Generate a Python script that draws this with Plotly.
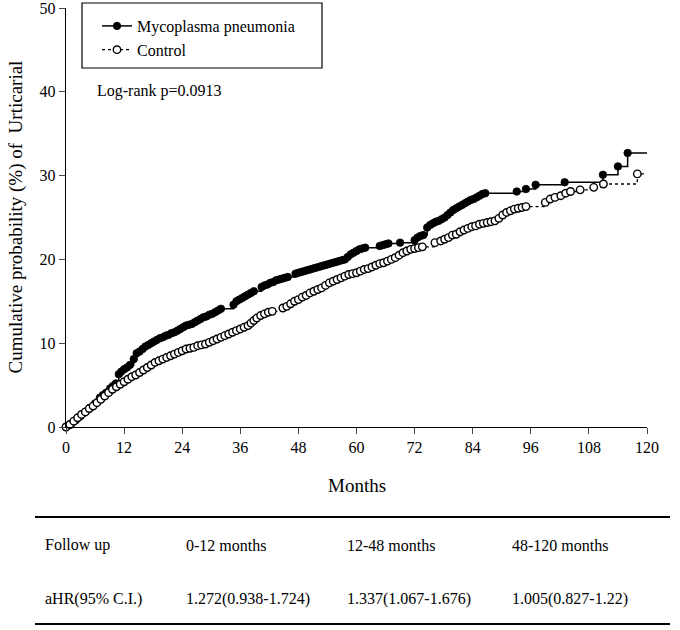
import plotly.graph_objects as go

# ---------------- data ----------------
myco_months = [0, 1, 2, 3, 4, 5, 6, 7, 7.6, 8.3, 9.1, 9.7, 10.3, 10.9, 11.4, 12.0, 12.6, 13.2, 14.0,
               14.6, 15.2, 15.8, 16.4, 17.0, 17.6, 18.2, 18.8, 19.4, 20.0, 20.6, 21.2, 21.8, 22.4,
               23.0, 23.6, 24.2, 24.8, 25.4, 26.0, 26.6, 27.2, 27.8, 28.4, 29.0, 29.6, 30.2, 30.8,
               31.4, 32.0, 34.6, 35.2, 35.8, 36.4, 37.0, 37.6, 38.2, 38.8, 40.4, 41.0, 41.6, 42.2,
               42.8, 43.4, 44.0, 44.6, 45.2, 45.8, 47.4, 48.0, 48.6, 49.2, 49.8, 50.4, 51.0, 51.6,
               52.2, 52.8, 53.4, 54.0, 54.6, 55.2, 55.8, 56.4, 57.0, 57.6, 58.2, 58.8, 59.4, 60.0,
               60.6, 61.2, 61.8, 64.8, 65.4, 66.0, 66.6, 69.0, 72.0, 72.6, 73.2, 73.8, 74.6, 75.2,
               75.8, 76.4, 77.0, 77.6, 78.2, 78.8, 79.4, 80.0, 80.6, 81.2, 81.8, 82.4, 83.0, 83.6,
               84.2, 84.8, 85.4, 86.0, 86.6, 93.1, 95.0, 97.0, 103.0, 110.9, 114.0, 116.0, 120.0]
myco_pct = [0, 0.3, 0.8, 1.3, 1.8, 2.3, 2.8, 3.5, 3.8, 4.1, 4.6, 4.9, 5.2, 6.3, 6.6, 6.9, 7.1, 7.4, 8.1,
            8.8, 9.0, 9.3, 9.6, 9.8, 10.0, 10.2, 10.4, 10.6, 10.7, 10.9, 11.0, 11.2, 11.3,
            11.5, 11.7, 11.9, 12.1, 12.2, 12.3, 12.5, 12.7, 12.9, 13.1, 13.2, 13.4, 13.5, 13.7,
            13.9, 14.1, 14.6, 15.0, 15.2, 15.4, 15.6, 15.8, 16.0, 16.2, 16.7, 16.9, 17.0, 17.2,
            17.3, 17.5, 17.6, 17.7, 17.8, 17.9, 18.3, 18.4, 18.5, 18.6, 18.7, 18.8, 18.9, 19.0,
            19.1, 19.2, 19.3, 19.4, 19.5, 19.6, 19.7, 19.8, 19.9, 20.0, 20.3, 20.6, 20.8, 21.0,
            21.2, 21.3, 21.4, 21.6, 21.7, 21.8, 21.9, 22.0, 22.3, 22.6, 22.8, 22.9, 23.8, 24.1,
            24.3, 24.5, 24.6, 24.8, 25.0, 25.3, 25.6, 25.9, 26.1, 26.3, 26.5, 26.7, 26.9, 27.1,
            27.2, 27.4, 27.6, 27.8, 27.9, 28.1, 28.4, 28.9, 29.2, 30.1, 31.1, 32.7, 32.7]

ctrl_months = [0, 0.8, 1.6, 2.4, 3.2, 4.0, 4.8, 5.6, 6.4, 7.2, 8.0, 8.8, 9.6, 10.4, 11.2, 12.0, 12.8,
               13.6, 14.4, 15.2, 16.0, 16.8, 17.6, 18.4, 19.2, 20.0, 20.8, 21.6, 22.4, 23.2, 24.0,
               24.8, 25.6, 26.4, 27.2, 28.0, 28.8, 29.6, 30.4, 31.2, 32.0, 32.8, 33.6, 34.4, 35.2,
               36.0, 36.8, 37.6, 38.2, 38.8, 39.4, 40.2, 41.0, 41.8, 42.6, 44.8, 45.6, 46.4, 47.2,
               48.0, 48.8, 49.6, 50.4, 51.2, 52.0, 52.8, 53.6, 54.4, 55.2, 56.0, 56.8, 57.6, 58.4,
               59.2, 60.0, 60.8, 61.6, 62.4, 63.2, 64.0, 64.8, 65.6, 66.4, 67.2, 68.0, 68.8, 69.6,
               70.4, 71.2, 72.0, 72.8, 73.6, 76.2, 77.4, 78.2, 79.0, 79.8, 80.6, 81.4, 82.2, 83.0,
               83.8, 84.6, 85.4, 86.2, 87.0, 87.8, 88.6, 89.4, 90.2, 91.0, 91.8, 92.6, 93.4, 94.2,
               95.0, 99.0, 100.0, 101.0, 102.2, 103.2, 104.2, 106.2, 109.0, 111.0, 118.0, 120.0]
ctrl_pct = [0, 0.3, 0.7, 1.1, 1.5, 1.8, 2.2, 2.5, 2.9, 3.3, 3.7, 4.1, 4.5, 4.8, 5.1, 5.4, 5.7,
            6.0, 6.2, 6.5, 6.8, 7.1, 7.4, 7.7, 7.9, 8.1, 8.3, 8.5, 8.7, 8.9, 9.1,
            9.3, 9.4, 9.5, 9.7, 9.8, 9.9, 10.1, 10.3, 10.5, 10.7, 10.9, 11.1, 11.3, 11.5,
            11.7, 11.9, 12.1, 12.4, 12.7, 13.0, 13.3, 13.5, 13.7, 13.8, 14.2, 14.4, 14.7, 15.0,
            15.2, 15.5, 15.7, 16.0, 16.2, 16.4, 16.6, 16.9, 17.2, 17.4, 17.6, 17.8, 18.0, 18.2,
            18.3, 18.4, 18.6, 18.8, 18.9, 19.1, 19.3, 19.5, 19.6, 19.8, 20.0, 20.2, 20.5, 20.8,
            21.0, 21.2, 21.3, 21.4, 21.5, 22.0, 22.2, 22.4, 22.6, 22.9, 23.0, 23.3, 23.5, 23.7,
            23.9, 24.0, 24.2, 24.3, 24.4, 24.5, 24.6, 24.9, 25.3, 25.6, 25.8, 26.0, 26.1, 26.2,
            26.3, 26.8, 27.2, 27.4, 27.6, 27.9, 28.1, 28.3, 28.6, 29.0, 30.2, 30.2]

x_ticks = [0, 12, 24, 36, 48, 60, 72, 84, 96, 108, 120]
y_ticks = [0, 10, 20, 30, 40, 50]

table_header = ["Follow up", "0-12 months", "12-48 months", "48-120 months"]
table_row = ["aHR(95% C.I.)", "1.272(0.938-1.724)", "1.337(1.067-1.676)", "1.005(0.827-1.22)"]

series_names = ["Mycoplasma pneumonia", "Control"]
logrank_text = "Log-rank p=0.0913"

# ---------------- figure ----------------
FONT = "Liberation Serif, Times New Roman, serif"

def marker_sizes(n, s):
    return [s] * (n - 1) + [0]

fig = go.Figure()
fig.add_trace(go.Scatter(
    x=myco_months, y=myco_pct, name=series_names[0], mode="lines+markers",
    line=dict(shape="hv", color="black", width=1.5),
    marker=dict(symbol="circle", size=marker_sizes(len(myco_months), 7.5), color="black",
                opacity=1, line=dict(color="black", width=0.8)),
    cliponaxis=False,
))
fig.add_trace(go.Scatter(
    x=ctrl_months, y=ctrl_pct, name=series_names[1], mode="lines+markers",
    line=dict(shape="hv", color="black", width=1.3, dash="dot"),
    marker=dict(symbol="circle", size=marker_sizes(len(ctrl_months), 7.5), color="white",
                opacity=1, line=dict(color="black", width=1.4)),
    cliponaxis=False,
))

L, R, T, B = 66, 33, 8, 203
W, H = 680, 630
pw, ph = W - L - R, H - T - B

def px2x(px):
    return (px - L) / pw

def py2y(py):
    return (H - B - py) / ph

annotations = [
    dict(text=logrank_text, x=px2x(95), y=py2y(91), xref="paper", yref="paper",
         xanchor="left", yanchor="middle", showarrow=False, font=dict(size=16)),
    dict(text="Months", x=0.5, y=py2y(486), xref="paper", yref="paper",
         xanchor="center", yanchor="middle", showarrow=False, font=dict(size=19)),
    dict(text="Cumulative probability (%) of  Urticarial", x=px2x(15), y=0.5,
         xref="paper", yref="paper", xanchor="center", yanchor="middle",
         textangle=-90, showarrow=False, font=dict(size=19)),
]
col_px = [43, 184, 345, 510]
for i, (h, r) in enumerate(zip(table_header, table_row)):
    annotations.append(dict(text=h, x=px2x(col_px[i]), y=py2y(545), xref="paper", yref="paper",
                            xanchor="left", yanchor="middle", showarrow=False, font=dict(size=16)))
    annotations.append(dict(text=r, x=px2x(col_px[i]), y=py2y(599), xref="paper", yref="paper",
                            xanchor="left", yanchor="middle", showarrow=False, font=dict(size=16)))

shapes = [
    dict(type="line", xref="paper", yref="paper", x0=px2x(35), x1=px2x(670),
         y0=py2y(517), y1=py2y(517), line=dict(color="black", width=2)),
    dict(type="line", xref="paper", yref="paper", x0=px2x(35), x1=px2x(670),
         y0=py2y(624), y1=py2y(624), line=dict(color="black", width=2)),
    dict(type="rect", xref="paper", yref="paper", x0=px2x(82), x1=px2x(322),
         y0=py2y(68), y1=py2y(3), line=dict(color="black", width=1.2), fillcolor="rgba(0,0,0,0)"),
]

fig.update_layout(
    width=W, height=H,
    margin=dict(l=L, r=R, t=T, b=B, autoexpand=False),
    paper_bgcolor="white", plot_bgcolor="white",
    font=dict(family=FONT, color="black", size=16),
    showlegend=True,
    legend=dict(x=px2x(97), y=py2y(9), xanchor="left", yanchor="top",
                bgcolor="rgba(0,0,0,0)", borderwidth=0, font=dict(size=16),
                tracegroupgap=0, itemwidth=30),
    annotations=annotations,
    shapes=shapes,
    xaxis=dict(range=[0, 120], tickvals=x_ticks, ticks="outside", ticklen=6, tickwidth=1.2,
               showline=True, linecolor="black", linewidth=1.4, showgrid=False, zeroline=False,
               tickfont=dict(size=16), fixedrange=True, ticklabeloverflow="allow"),
    yaxis=dict(range=[0, 50], tickvals=y_ticks, ticks="outside", ticklen=6, tickwidth=1.2,
               showline=True, linecolor="black", linewidth=1.4, showgrid=False, zeroline=False,
               tickfont=dict(size=16), fixedrange=True, ticklabeloverflow="allow"),
)

fig.write_html("out.html", config={"displayModeBar": False},
               post_script="document.body.style.margin='0';document.body.style.overflow='hidden';")
